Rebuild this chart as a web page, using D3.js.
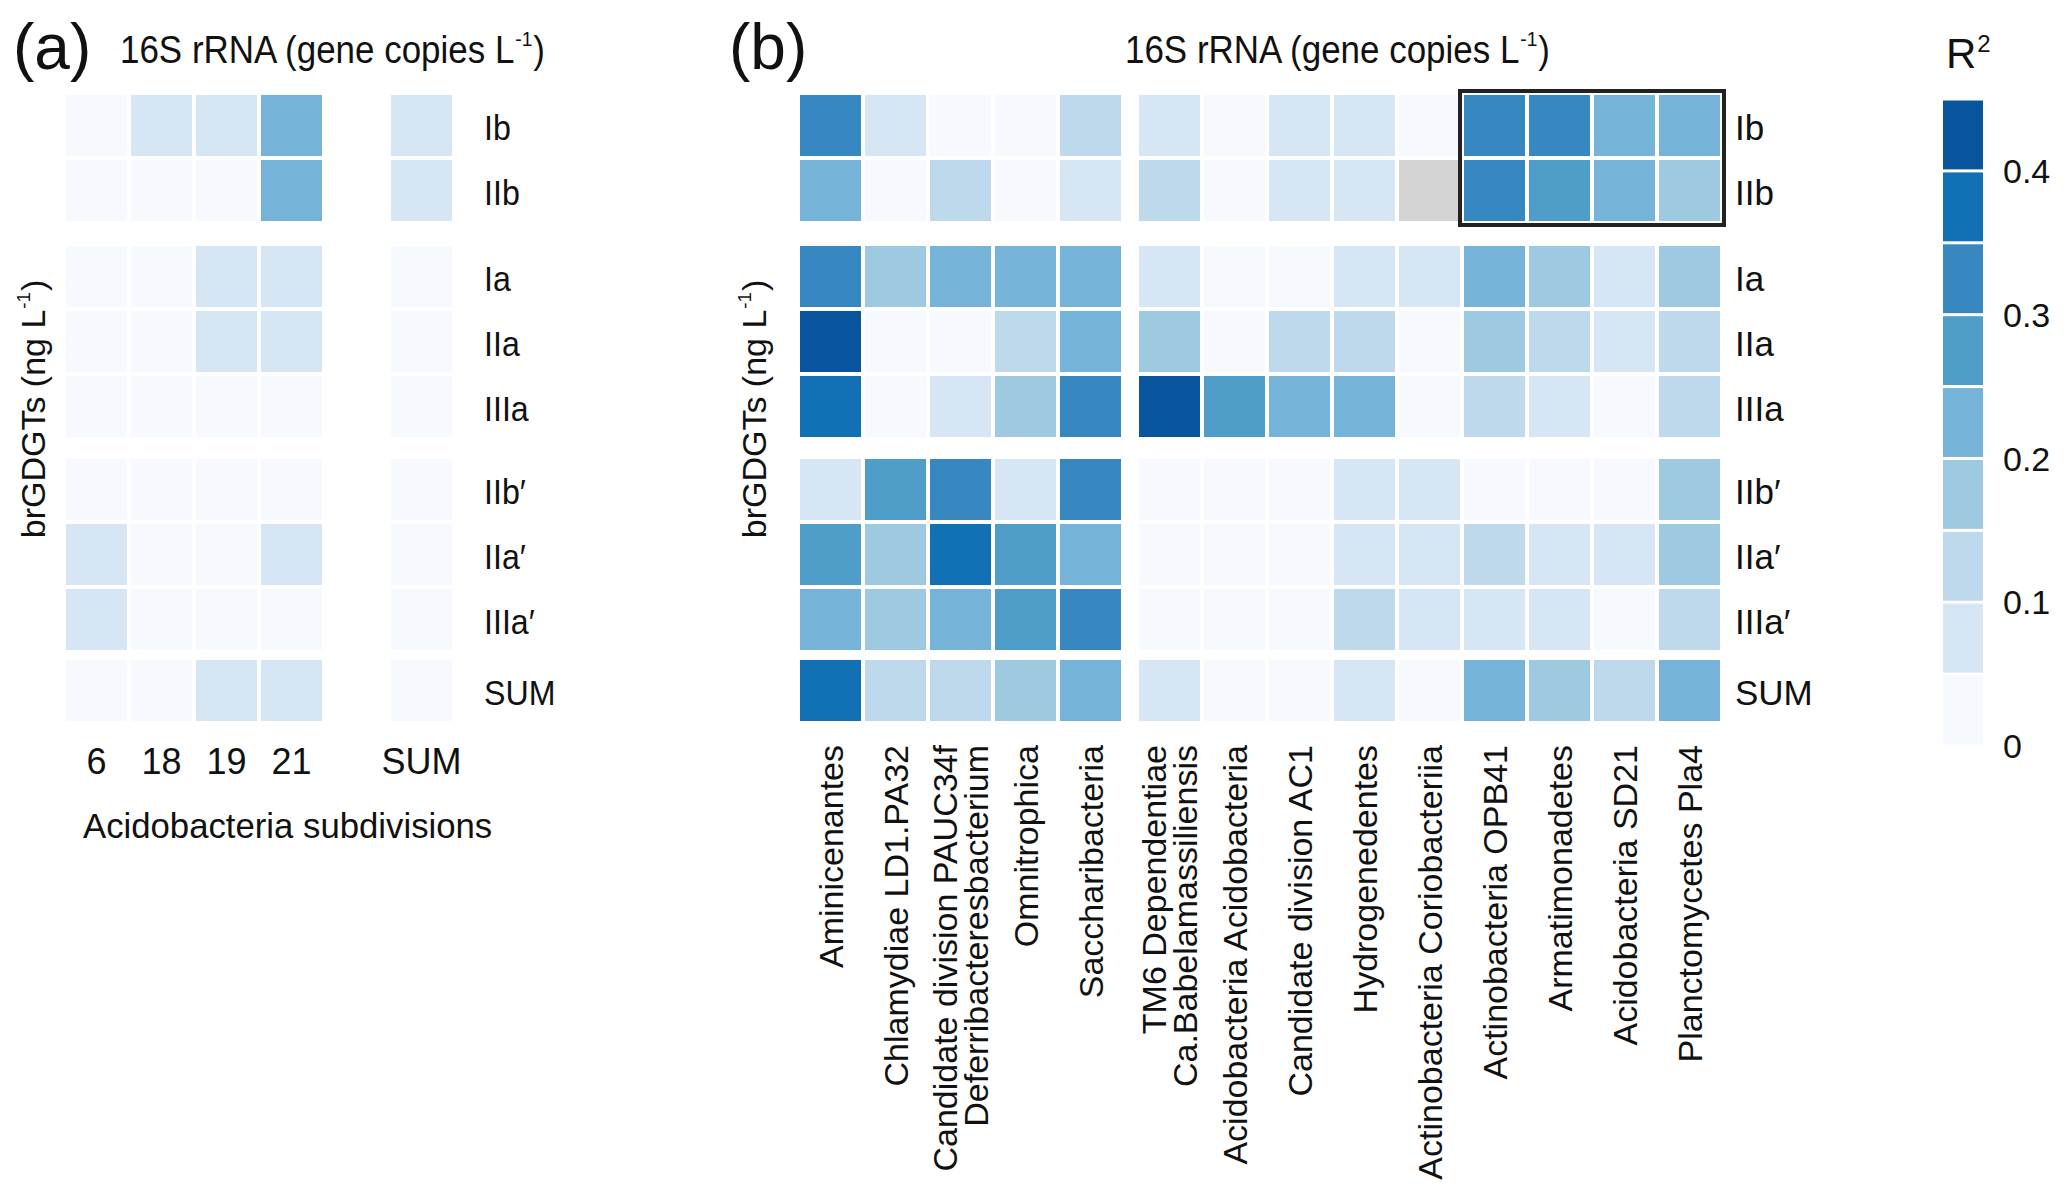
<!DOCTYPE html>
<html>
<head>
<meta charset="utf-8">
<script src="https://cdn.jsdelivr.net/npm/d3@7"></script>
<style>
  body { margin: 0; background: #fff; }
  text { fill: #111; }
</style>
</head>
<body>
<svg id="chart" width="2067" height="1204"></svg>
<script>
// ---- data ----
var rowNames = ["Ib", "IIb", "Ia", "IIa", "IIIa", "IIb\u2032", "IIa\u2032", "IIIa\u2032", "SUM"];
var rowGroup = [0, 0, 1, 1, 1, 2, 2, 2, 3];

var colsA = ["6", "18", "19", "21", "SUM"];
var colGroupA = [0, 0, 0, 0, 1];

var colsB = ["Aminicenantes", "Chlamydiae LD1.PA32",
  "Candidate division PAUC34f\nDeferribacteresbacterium", "Omnitrophica",
  "Saccharibacteria", "TM6 Dependentiae\nCa.Babelamassiliensis",
  "Acidobacteria Acidobacteria", "Candidate division AC1", "Hydrogenedentes",
  "Actinobacteria Coriobacteriia", "Actinobacteria OPB41", "Armatimonadetes",
  "Acidobacteria SD21", "Planctomycetes Pla4"];
var colGroupB = [0, 0, 0, 0, 0, 1, 1, 1, 1, 1, 1, 1, 1, 1];

// R2, one array per brGDGT row (panel a: subdivisions 6, 18, 19, 21, SUM)
var r2A = [
  [0.02, 0.08, 0.07, 0.22, 0.06],
  [0.01, 0.02, 0.01, 0.23, 0.07],
  [0.01, 0.02, 0.07, 0.06, 0.02],
  [0.02, 0.01, 0.08, 0.07, 0.01],
  [0.01, 0.02, 0.01, 0.02, 0.01],
  [0.01, 0.01, 0.02, 0.01, 0.01],
  [0.07, 0.01, 0.02, 0.06, 0.01],
  [0.08, 0.02, 0.01, 0.02, 0.01],
  [0.02, 0.01, 0.07, 0.08, 0.02]
];

// panel b, null = not available (grey)
var r2B = [
  [0.32, 0.07, 0.02, 0.01, 0.13, 0.08, 0.01, 0.06, 0.07, 0.01, 0.33, 0.32, 0.22, 0.23],
  [0.21, 0.02, 0.12, 0.01, 0.06, 0.11, 0.02, 0.07, 0.08, null, 0.33, 0.28, 0.22, 0.18],
  [0.31, 0.17, 0.21, 0.22, 0.22, 0.07, 0.02, 0.01, 0.06, 0.08, 0.23, 0.18, 0.08, 0.17],
  [0.43, 0.01, 0.02, 0.12, 0.23, 0.17, 0.01, 0.11, 0.12, 0.02, 0.18, 0.13, 0.07, 0.12],
  [0.38, 0.01, 0.08, 0.17, 0.32, 0.42, 0.27, 0.22, 0.23, 0.02, 0.12, 0.07, 0.02, 0.13],
  [0.07, 0.28, 0.33, 0.07, 0.32, 0.02, 0.01, 0.02, 0.06, 0.08, 0.02, 0.01, 0.02, 0.18],
  [0.27, 0.17, 0.37, 0.28, 0.22, 0.02, 0.01, 0.02, 0.07, 0.08, 0.12, 0.07, 0.06, 0.17],
  [0.22, 0.18, 0.23, 0.28, 0.33, 0.01, 0.02, 0.01, 0.12, 0.07, 0.08, 0.06, 0.02, 0.13],
  [0.37, 0.12, 0.13, 0.18, 0.23, 0.07, 0.01, 0.02, 0.07, 0.01, 0.22, 0.18, 0.12, 0.23]
];

var boxedCols = ["Actinobacteria OPB41", "Planctomycetes Pla4"];
var boxedRows = ["Ib", "IIb"];

var legendTicks = [0, 0.1, 0.2, 0.3, 0.4];
var palette = ["#f6fafe", "#d6e6f4", "#bed8ec", "#9dcae1", "#75b4d8",
  "#4f9eca", "#3787c0", "#1270b5", "#08559e"];

// ---- layout ----
var svg = d3.select("#chart");
var fontReg = "'Liberation Sans', Arial, sans-serif";
var step = 65, cell = 61;
var groupGapRow = [0, 21, 39, 45];

var color = d3.scaleQuantize().domain([0, 0.45]).range(palette);

var yBand = d3.scaleBand().domain(rowNames)
  .range([95, 95 + rowNames.length * step - (step - cell)])
  .paddingInner((step - cell) / step);
function yPos(r) {
  return yBand(r) + groupGapRow[rowGroup[rowNames.indexOf(r)]];
}

function makeX(cols, groups, x0, gap) {
  var band = d3.scaleBand().domain(cols)
    .range([x0, x0 + cols.length * step - (step - cell)])
    .paddingInner((step - cell) / step);
  return function(c) { return band(c) + groups[cols.indexOf(c)] * gap; };
}
var xA = makeX(colsA, colGroupA, 66, 65);
var xB = makeX(colsB, colGroupB, 800, 14);
var bw = yBand.bandwidth();

function drawCells(cols, data, xf) {
  var cells = [];
  data.forEach(function(row, i) {
    row.forEach(function(v, j) {
      cells.push({ r: rowNames[i], c: cols[j], v: v });
    });
  });
  svg.append("g").selectAll("rect").data(cells).join("rect")
    .attr("x", function(d) { return xf(d.c); })
    .attr("y", function(d) { return yPos(d.r); })
    .attr("width", bw)
    .attr("height", bw)
    .attr("fill", function(d) { return d.v === null ? "#d4d4d4" : color(d.v); });
}
drawCells(colsA, r2A, xA);
drawCells(colsB, r2B, xB);

// box around highlighted block
var bx0 = xB(boxedCols[0]) - 4, bx1 = xB(boxedCols[1]) + bw + 4;
var by0 = yPos(boxedRows[0]) - 4, by1 = yPos(boxedRows[1]) + bw + 4;
svg.append("rect")
  .attr("x", bx0).attr("y", by0)
  .attr("width", bx1 - bx0).attr("height", by1 - by0)
  .attr("fill", "none").attr("stroke", "#222").attr("stroke-width", 4);

// row labels
function rowLabels(x, sx) {
  svg.append("g").selectAll("text").data(rowNames).join("text")
    .attr("transform", function(r) {
      return "translate(" + x + "," + (yPos(r) + bw / 2) + ") scale(" + sx + ",1)";
    })
    .attr("dy", "0.4em")
    .style("font-family", fontReg).style("font-size", "35px")
    .text(function(r) { return r; });
}
rowLabels(484, 0.92);
rowLabels(1735, 1);

// panel a column labels
svg.append("g").selectAll("text").data(colsA).join("text")
  .attr("x", function(c) { return xA(c) + bw / 2; })
  .attr("y", 774)
  .attr("text-anchor", "middle")
  .style("font-family", fontReg).style("font-size", "36px")
  .text(function(c) { return c; });

svg.append("text").attr("transform", "translate(83,838) scale(0.965,1)")
  .style("font-family", fontReg).style("font-size", "36px")
  .text("Acidobacteria subdivisions");

// panel b column labels (rotated)
var colLab = svg.append("g").selectAll("text").data(colsB).join("text")
  .attr("transform", function(c) {
    return "translate(" + (xB(c) + bw / 2) + ",745) rotate(-90)";
  })
  .attr("text-anchor", "end")
  .style("font-family", fontReg).style("font-size", "34px");
colLab.each(function(c) {
  var lines = c.split("\n");
  var t = d3.select(this);
  lines.forEach(function(l, i) {
    var off = (i - (lines.length - 1) / 2) * 0.9 + 0.36;
    t.append("tspan").attr("x", 0).attr("y", 0).attr("dy", off + "em").text(l);
  });
});

// titles with superscripts
function supText(sel, main, sup, tail, size) {
  sel.append("tspan").text(main);
  sel.append("tspan").attr("dx", 1).attr("dy", -size * 0.45)
    .style("font-size", (size * 0.55) + "px").text(sup);
  sel.append("tspan").attr("dx", 1).attr("dy", size * 0.45).text(tail);
}
[120, 1125].forEach(function(x) {
  var t = svg.append("text").attr("transform", "translate(" + x + ",63) scale(0.92,1)")
    .style("font-family", fontReg).style("font-size", "38px");
  supText(t, "16S rRNA (gene copies L", "-1", ")", 38);
});

svg.append("text").attr("x", 13).attr("y", 69)
  .style("font-family", fontReg).style("font-size", "64px").text("(a)");
svg.append("text").attr("x", 729).attr("y", 69)
  .style("font-family", fontReg).style("font-size", "64px").text("(b)");

// y axis titles
[45, 766].forEach(function(x) {
  var t = svg.append("text")
    .attr("transform", "translate(" + x + ",409) rotate(-90)")
    .attr("text-anchor", "middle")
    .style("font-family", fontReg).style("font-size", "34px");
  supText(t, "brGDGTs (ng L", "-1", ")", 34);
});

// colour bar
var cbY = d3.scaleLinear().domain([0, 0.45]).range([746, 99]);
var bins = palette.map(function(p, i) { return i * 0.05; });
svg.append("g").selectAll("rect").data(bins).join("rect")
  .attr("x", 1943)
  .attr("y", function(d) { return cbY(d + 0.05) + 1.5; })
  .attr("width", 40)
  .attr("height", function(d) { return cbY(d) - cbY(d + 0.05) - 3; })
  .attr("fill", function(d) { return color(d + 0.025); });

svg.append("g").selectAll("text").data(legendTicks).join("text")
  .attr("x", 2003)
  .attr("y", function(d) { return cbY(d); })
  .attr("dy", "0.36em")
  .style("font-family", fontReg).style("font-size", "34px")
  .text(function(d) { return d === 0 ? "0" : d3.format(".1f")(d); });

var r2 = svg.append("text").attr("x", 1946).attr("y", 68)
  .style("font-family", fontReg).style("font-size", "42px");
r2.append("tspan").text("R");
r2.append("tspan").attr("dx", 1).attr("dy", -16).style("font-size", "24px").text("2");
</script>
</body>
</html>
